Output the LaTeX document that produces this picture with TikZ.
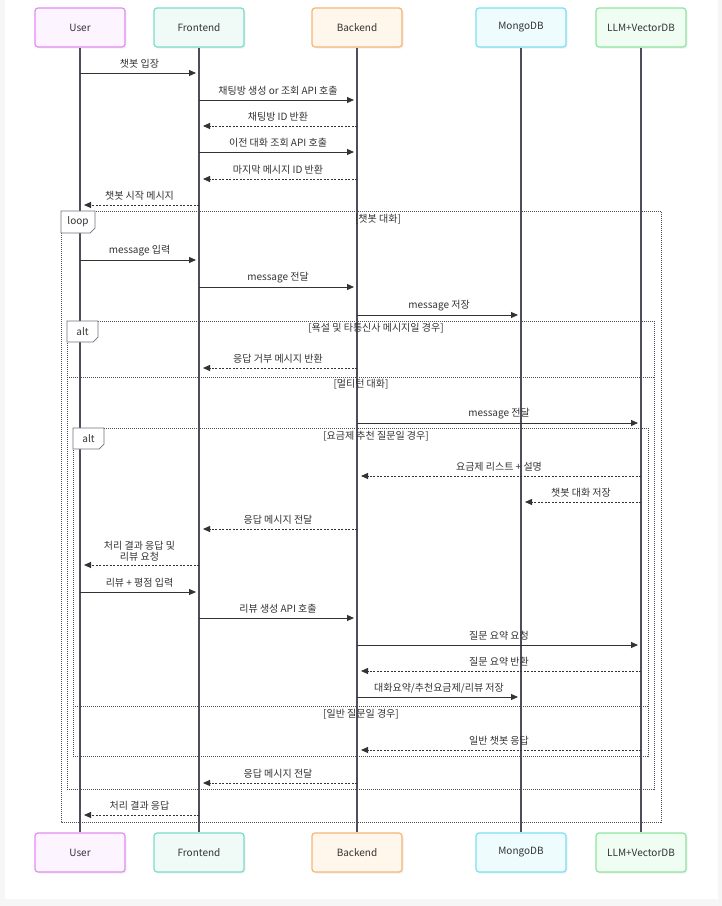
\documentclass[tikz,border=0pt]{standalone}
\usepackage{fontspec}
\setmainfont{Noto Sans CJK KR}
\usepackage{tikz}
\usetikzlibrary{arrows.meta,positioning,shadows}

\definecolor{ink}{HTML}{333333}
\definecolor{lifec}{HTML}{4E4D5C}
\definecolor{pagebg}{HTML}{F6F6F7}
\definecolor{userd}{HTML}{E68AF6} \definecolor{userf}{HTML}{FCF4FE}
\definecolor{frontd}{HTML}{7ADDC8} \definecolor{frontf}{HTML}{F0FBF8}
\definecolor{backd}{HTML}{F8B574} \definecolor{backf}{HTML}{FFF6EC}
\definecolor{mongod}{HTML}{7CDFF4} \definecolor{mongof}{HTML}{EEFCFE}
\definecolor{llmd}{HTML}{8DE5A0} \definecolor{llmf}{HTML}{F0FDF3}

% one message between two lifelines at height #4
\newcommand{\msg}[5][sync]{\draw[#1] (#2 |- 0,#4) -- (#3 |- 0,#4) node[lbl] {#5};}

\begin{document}
\begin{tikzpicture}[
	x=1pt, y=-1pt,
	font=\fontsize{10}{11}\selectfont,
	text=ink,
	>={Triangle[length=7pt,width=6pt]},
	actor/.style={rectangle, rounded corners=3pt, line width=1.2pt, minimum width=90pt, minimum height=39pt, inner sep=0pt,
		drop shadow={shadow xshift=1.5pt, shadow yshift=-1.5pt, opacity=0.12}},
	life/.style={line width=1.3pt, lifec},
	sync/.style={->, line width=1pt, ink, shorten >=3pt},
	reply/.style={->, line width=1pt, ink, dash pattern=on 2pt off 1.5pt, shorten >=4pt},
	lbl/.style={midway, yshift=9pt, inner sep=0pt},
	frame/.style={line width=0.7pt, lifec, dash pattern=on 1pt off 1pt},
	tab/.style={line width=0.7pt, lifec!80, fill=white},
	cond/.style={inner sep=0pt},
]
\useasboundingbox (0,0) rectangle (722,906);
\fill[pagebg] (0,0) rectangle (722,906);
\fill[white] (5,0) rectangle (718,899);

% participants
\node[actor, draw=userd, fill=userf] (uh) at (80,27.5) {User};
\node[actor, draw=frontd, fill=frontf] (fh) [right=27.8pt of uh] {Frontend};
\node[actor, draw=backd, fill=backf] (bh) [right=66.8pt of fh] {Backend};
\node[actor, draw=mongod, fill=mongof] (mh) [right=72.8pt of bh] {MongoDB};
\node[actor, draw=llmd, fill=llmf] (lh) [right=28.8pt of mh] {LLM+VectorDB};
\node[actor, draw=userd, fill=userf] (uf) at (uh |- 0,852.5) {User};
\node[actor, draw=frontd, fill=frontf] (ff) at (fh |- 0,852.5) {Frontend};
\node[actor, draw=backd, fill=backf] (bf) at (bh |- 0,852.5) {Backend};
\node[actor, draw=mongod, fill=mongof] (mf) at (mh |- 0,852.5) {MongoDB};
\node[actor, draw=llmd, fill=llmf] (lf) at (lh |- 0,852.5) {LLM+VectorDB};
\foreach \a/\b in {uh/uf, fh/ff, bh/bf, mh/mf, lh/lf}
	\draw[life] (\a) -- (\b);

% loop / alt frames
\draw[frame] (61,211) rectangle (661,822);
\draw[tab] (61,211) -- (95,211) -- (95,228) -- (90,233) -- (61,233) -- cycle;
\node (looptab) at (78,222) {loop};
\node[cond] (loopc) at (378,219) {[챗봇 대화]};

\draw[frame] (67,321) rectangle (654,789);
\draw[tab] (67,321) -- (98,321) -- (98,337) -- (93,342) -- (67,342) -- cycle;
\node (alttab1) at (82.5,332) {alt};
\node[cond] (altc1) at (376,328) {[욕설 및 타통신사 메시지일 경우]};
\draw[frame] (67,377) -- (654,377);
\node[cond] (elsec1) at (361,384) {[멀티턴 대화]};

\draw[frame] (73,428) rectangle (648,756);
\draw[tab] (73,428) -- (104,428) -- (104,444) -- (99,449) -- (73,449) -- cycle;
\node (alttab2) at (88.5,439) {alt};
\node[cond] (altc2) at (376,436) {[요금제 추천 질문일 경우]};
\draw[frame] (73,706) -- (648,706);
\node[cond] (elsec2) at (361,714) {[일반 질문일 경우]};

% messages
\msg{uh}{fh}{73}{챗봇 입장}
\msg{fh}{bh}{100}{채팅방 생성 or 조회 API 호출}
\msg[reply]{bh}{fh}{126}{채팅방 ID 반환}
\msg{fh}{bh}{152}{이전 대화 조회 API 호출}
\msg[reply]{bh}{fh}{179}{마지막 메시지 ID 반환}
\msg[reply]{fh}{uh}{205}{챗봇 시작 메시지}
\msg{uh}{fh}{260}{message 입력}
\msg{fh}{bh}{287}{message 전달}
\msg{bh}{mh}{315}{message 저장}
\msg[reply]{bh}{fh}{368}{응답 거부 메시지 반환}
\msg{bh}{lh}{423}{message 전달}
\msg[reply]{lh}{bh}{476}{요금제 리스트 + 설명}
\msg[reply]{lh}{mh}{502}{챗봇 대화 저장}
\msg[reply]{bh}{fh}{529}{응답 메시지 전달}
\draw[reply] (fh |- 0,565) -- (uh |- 0,565) node[lbl, yshift=5pt, align=center] {처리 결과 응답 및\\리뷰 요청};
\msg{uh}{fh}{592}{리뷰 + 평점 입력}
\msg{fh}{bh}{618}{리뷰 생성 API 호출}
\msg{bh}{lh}{645}{질문 요약 요청}
\msg[reply]{lh}{bh}{671}{질문 요약 반환}
\msg{bh}{mh}{697}{대화요약/추천요금제/리뷰 저장}
\msg[reply]{lh}{bh}{750}{일반 챗봇 응답}
\msg[reply]{bh}{fh}{783}{응답 메시지 전달}
\msg[reply]{fh}{uh}{815}{처리 결과 응답}
\end{tikzpicture}
\end{document}
